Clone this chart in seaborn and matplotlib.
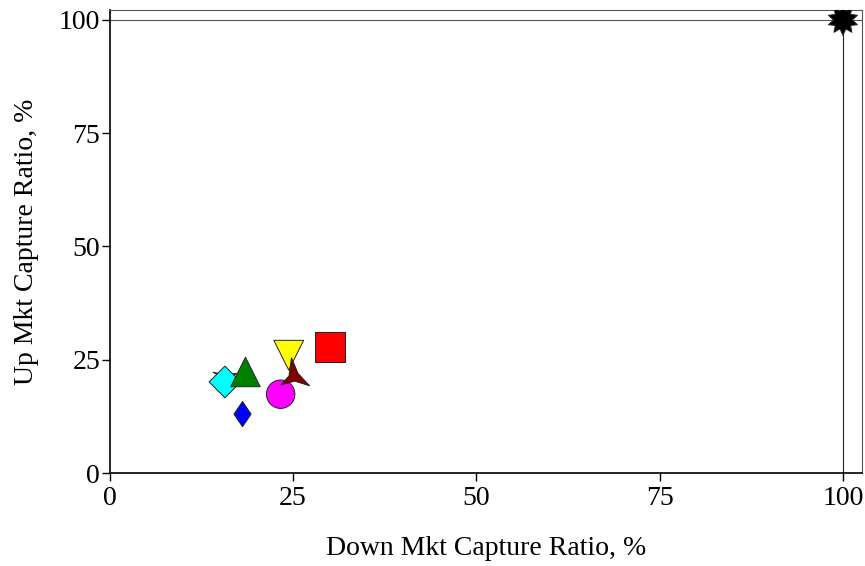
import numpy as np
import pandas as pd
import seaborn as sns
import matplotlib.pyplot as plt
from matplotlib.path import Path

# data (Down capture %, Up capture %)
names = ['hidden', 'cyan', 'green', 'blue', 'magenta', 'yellow', 'maroon', 'red', 'index']
down_capture = [15.6, 15.7, 18.5, 18.1, 23.3, 24.4, 25.0, 30.0, 100.0]
up_capture = [20.6, 20.1, 22.3, 13.0, 17.4, 26.0, 21.8, 27.8, 100.0]
colors = ['#008000', '#00ffff', '#008000', '#0000ff', '#ff00ff', '#ffff00', '#800000', '#ff0000', '#000000']
sizes = [320, 260, 450, 330, 420, 460, 560, 470, 480]

# custom shapes
tri = Path([(-0.1, 1), (0.3, 0.05), (1.0, -0.7), (0.1, -0.42), (-0.75, -0.65), (-0.25, -0.1), (-0.1, 1)],
           [Path.MOVETO] + [Path.LINETO] * 5 + [Path.CLOSEPOLY])
tri_rot = Path([(-0.9, 0.6), (0.0, 0.1), (0.1, -1.0), (0.3, 0.0), (1.0, 0.5), (0.0, 0.4), (-0.9, 0.6)],
               [Path.MOVETO] + [Path.LINETO] * 5 + [Path.CLOSEPOLY])
thin_diamond = Path([(0, 1), (0.68, 0), (0, -1), (-0.68, 0), (0, 1)],
                    [Path.MOVETO] + [Path.LINETO] * 3 + [Path.CLOSEPOLY])
star10 = Path.unit_regular_star(10, 0.62)
marker_list = [tri_rot, 'D', '^', thin_diamond, 'o', 'v', tri, 's', star10]

df = pd.DataFrame({'name': names, 'down': down_capture, 'up': up_capture})

sns.set_style('white')
plt.rcParams['font.family'] = ['Liberation Serif', 'DejaVu Serif']
plt.rcParams['text.color'] = 'black'
plt.rcParams['axes.labelcolor'] = 'black'
plt.rcParams['xtick.color'] = 'black'
plt.rcParams['ytick.color'] = 'black'

fig = plt.figure(figsize=(8.65, 5.66), dpi=100)
ax = fig.add_axes([0.127, 0.1643, 0.8695, 0.818])

ax.axhline(100, color='#555555', lw=0.8, zorder=1)
ax.axvline(100, color='#222222', lw=0.8, zorder=1)

sns.scatterplot(data=df, x='down', y='up', hue='name', style='name', size='name',
                palette=dict(zip(names, colors)), markers=dict(zip(names, marker_list)),
                sizes=dict(zip(names, sizes)), edgecolor='#222222', linewidth=0.7,
                legend=False, ax=ax, zorder=3)

ax.set_xlim(0, 102.6)
ax.set_ylim(0, 102.2)
ax.set_xticks([0, 25, 50, 75, 100])
ax.set_yticks([0, 25, 50, 75, 100])
ax.tick_params(axis='both', which='both', direction='out', length=6, width=1,
               color='black', labelsize=20, pad=1, bottom=True, left=True)
ax.tick_params(axis='x', pad=3)
ax.set_xlabel('Down Mkt Capture Ratio, %', fontsize=20, labelpad=18)
ax.set_ylabel('Up Mkt Capture Ratio, %', fontsize=20, labelpad=14)

for side in ['left', 'bottom']:
    ax.spines[side].set_color('black')
    ax.spines[side].set_linewidth(1.2)
for side in ['top', 'right']:
    ax.spines[side].set_color('#555555')
    ax.spines[side].set_linewidth(0.8)

fig.savefig('out.png', dpi=100)
